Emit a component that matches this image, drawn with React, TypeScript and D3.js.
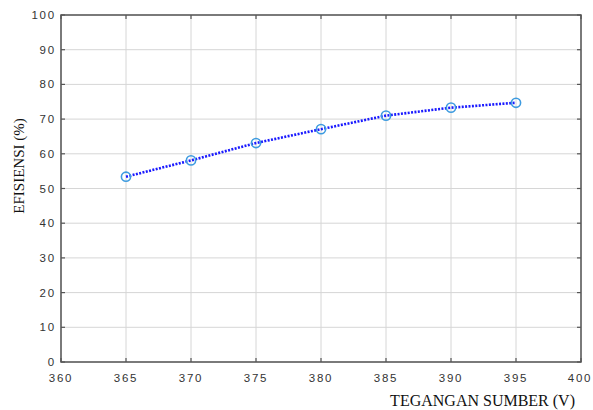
import React from "react";
import * as d3 from "d3";

const voltages = [365, 370, 375, 380, 385, 390, 395];
const efficiency = [53.4, 58.1, 63.1, 67.1, 71.0, 73.3, 74.7];
const xTicks = [360, 365, 370, 375, 380, 385, 390, 395, 400];
const yTicks = [0, 10, 20, 30, 40, 50, 60, 70, 80, 90, 100];
const xTitle = "TEGANGAN SUMBER (V)";
const yTitle = "EFISIENSI (%)";

const W = 593, H = 410;
const L = 61, R = 581, T = 15, B = 362;

export default function App() {
  const x = d3.scaleLinear().domain([360, 400]).range([L, R]);
  const y = d3.scaleLinear().domain([0, 100]).range([B, T]);
  const pts = voltages.map((v, i) => [x(v), y(efficiency[i])] as [number, number]);
  const line = d3.line()(pts) || "";
  const axisColor = "#555";
  const tickFont = { fontFamily: "Liberation Sans, Arial, sans-serif", fontSize: 11.5, letterSpacing: 1.8, fill: "#333" };
  return (
    <svg width={W} height={H} style={{ position: "absolute", left: 0, top: 0, background: "#fff" }}>
      <rect x={0} y={0} width={W} height={H} fill="#fff" />
      {xTicks.map((t) => (
        <line key={"gx" + t} x1={x(t)} x2={x(t)} y1={T} y2={B} stroke="#d6d6d6" strokeWidth={1} />
      ))}
      {yTicks.map((t) => (
        <line key={"gy" + t} x1={L} x2={R} y1={y(t)} y2={y(t)} stroke="#d6d6d6" strokeWidth={1} />
      ))}
      <rect x={L} y={T} width={R - L} height={B - T} fill="none" stroke={axisColor} strokeWidth={1.5} />
      {xTicks.map((t) => (
        <g key={"tx" + t}>
          <line x1={x(t)} x2={x(t)} y1={B} y2={B - 4} stroke={axisColor} strokeWidth={1.2} />
          <line x1={x(t)} x2={x(t)} y1={T} y2={T + 4} stroke={axisColor} strokeWidth={1.2} />
          <text x={Math.min(x(t), 580)} y={382} textAnchor="middle" {...tickFont}>{t}</text>
        </g>
      ))}
      {yTicks.map((t) => (
        <g key={"ty" + t}>
          <line x1={L} x2={L + 4} y1={y(t)} y2={y(t)} stroke={axisColor} strokeWidth={1.2} />
          <line x1={R} x2={R - 4} y1={y(t)} y2={y(t)} stroke={axisColor} strokeWidth={1.2} />
          <text x={56} y={y(t) + 4} textAnchor="end" {...tickFont}>{t}</text>
        </g>
      ))}
      <path d={line} fill="none" stroke="#1a1aff" strokeWidth={2.6} strokeDasharray="2,1.4" />
      {pts.map((p, i) => (
        <circle key={"m" + i} cx={p[0]} cy={p[1]} r={4.6} fill="none" stroke="#3d9be0" strokeWidth={1.6} />
      ))}
      <text x={575} y={406} textAnchor="end" fontFamily="Liberation Serif, Times New Roman, serif" fontSize={16} fill="#111">{xTitle}</text>
      <text transform={`translate(24,166) rotate(-90)`} textAnchor="middle" fontFamily="Liberation Serif, Times New Roman, serif" fontSize={15} fill="#111">{yTitle}</text>
    </svg>
  );
}
